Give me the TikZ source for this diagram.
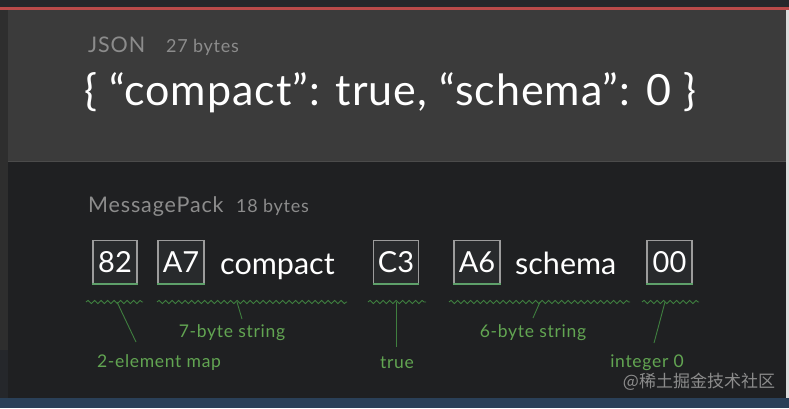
\documentclass[tikz,border=0pt]{standalone}
\usepackage{fontspec}
\setmainfont{Lato}[LetterSpace=4]
\newfontfamily\jsonfont{Lato}[LetterSpace=2.2]
\newfontfamily\plainfont{Lato}
\newfontfamily\cjk{Noto Sans CJK SC}
\usetikzlibrary{decorations.pathmorphing}
\definecolor{topbar}{HTML}{25272B}
\definecolor{redline}{HTML}{B84A4A}
\definecolor{upperbg}{HTML}{3B3B3B}
\definecolor{lowerbg}{HTML}{1F2022}
\definecolor{leftstrip}{HTML}{2E2E2E}
\definecolor{bottombar}{HTML}{2A4058}
\definecolor{rightstrip}{HTML}{DCDCDC}
\definecolor{graytext}{HTML}{8C8C8C}
\definecolor{greentext}{HTML}{62A552}
\definecolor{greenline}{HTML}{3F7F3F}
\definecolor{boxborder}{HTML}{9C9C9C}
\definecolor{boxfill}{HTML}{282A2C}
\definecolor{boxgreen}{HTML}{5EA06A}
\tikzset{
  bytebox/.style={draw=boxborder, line width=1.1pt, fill=boxfill, text=white,
    minimum width=44pt, minimum height=43pt, inner sep=0pt, font=\plainfont\fontsize{29}{30}\selectfont},
  word/.style={text=white, inner sep=0pt, font=\plainfont\fontsize{30.5}{32}\selectfont},
  wave/.style={draw=greenline, line width=0.9pt, decorate,
    decoration={snake, segment length=6.5pt, amplitude=1.6pt}},
  lead/.style={draw=greenline, line width=0.9pt},
  gl/.style={text=greentext, inner sep=0pt, font=\fontsize{17.5}{18}\selectfont},
  hdr/.style={text=graytext, inner sep=0pt, anchor=base west, font=\fontsize{21.5}{22}\selectfont},
  hdrsub/.style={text=graytext, inner sep=0pt, anchor=base west, font=\fontsize{18}{19}\selectfont}
}
\begin{document}
\begin{tikzpicture}[x=1pt,y=-1pt]
\useasboundingbox (0,0) rectangle (789,408);
% backgrounds
\fill[topbar] (0,0) rectangle (789,8);
\fill[upperbg] (0,10) rectangle (789,161);
\fill[lowerbg] (0,161) rectangle (789,398);
\fill[leftstrip] (0,10) rectangle (8,350);
\fill[topbar] (0,350) rectangle (8,398);
\fill[bottombar] (0,398) rectangle (789,408);
\fill[redline] (0,7) rectangle (789,10);
\fill[rightstrip] (786,10) rectangle (789,398);
\draw[color=upperbg!92!white, line width=0.8pt] (8,161) -- (786,161);
% JSON header
\node[hdr] (jsonlbl) at (88,52) {JSON};
\node[hdrsub] (jsonbytes) at (166,52) {27 bytes};
\node[text=white, inner sep=0pt, anchor=base west, font=\jsonfont\fontsize{43}{44}\selectfont] (jsonline) at (84,105) {\{ “compact”: true, “schema”: 0 \}};
% MessagePack header
\node[hdr] (mplbl) at (88,212) {MessagePack};
\node[hdrsub] (mpbytes) at (236,212) {18 bytes};
% boxes and words
\node[bytebox] (b82) at (115,262) {82};
\node[bytebox, minimum width=46pt] (bA7) at (181,262) {A7};
\node[word, anchor=base west] (wcompact) at (220,274) {compact};
\node[bytebox, minimum width=45pt] (bC3) at (396,262) {C3};
\node[bytebox, minimum width=46pt] (bA6) at (477,262) {A6};
\node[word, anchor=base west] (wschema) at (515,274) {schema};
\node[bytebox, minimum width=45pt] (b00) at (669.5,262) {00};
% green bottom edges of boxes
\foreach \b in {b82,bA7,bC3,bA6,b00}{
  \draw[boxgreen, line width=1.3pt] (\b.south west) -- (\b.south east);
}
% waves
\coordinate (w1a) at (86,302); \coordinate (w1b) at (143,302);
\coordinate (w2a) at (157,302); \coordinate (w2b) at (347,302);
\coordinate (w3a) at (368,302); \coordinate (w3b) at (426,302);
\coordinate (w4a) at (449,302); \coordinate (w4b) at (630,302);
\coordinate (w5a) at (642,302); \coordinate (w5b) at (699,302);
\draw[wave] (w1a) -- (w1b);
\draw[wave] (w2a) -- (w2b);
\draw[wave] (w3a) -- (w3b);
\draw[wave] (w4a) -- (w4b);
\draw[wave] (w5a) -- (w5b);
% labels
\node[gl] (lmap) at (159,363) {2-element map};
\node[gl] (l7) at (232,333) {7-byte string};
\node[gl] (ltrue) at (397,363) {true};
\node[gl] (l6) at (533,333) {6-byte string};
\node[gl] (lint) at (647,363) {integer 0};
% leader lines
\coordinate (c1) at (117,302); \coordinate (e1) at (136,342);
\coordinate (c2) at (237,302); \coordinate (e2) at (242,319);
\coordinate (c3) at (396,302); \coordinate (e3) at (396,347);
\coordinate (c4) at (540,302); \coordinate (e4) at (533,318);
\coordinate (c5) at (665,302); \coordinate (e5) at (654,343);
\draw[lead] (c1) -- (e1);
\draw[lead] (c2) -- (e2);
\draw[lead] (c3) -- (e3);
\draw[lead] (c4) -- (e4);
\draw[lead] (c5) -- (e5);
% watermark
\node[text=graytext, inner sep=0pt, font=\cjk\fontsize{17}{18}\selectfont] (wm) at (699,382) {@稀土掘金技术社区};
\end{tikzpicture}
\end{document}
